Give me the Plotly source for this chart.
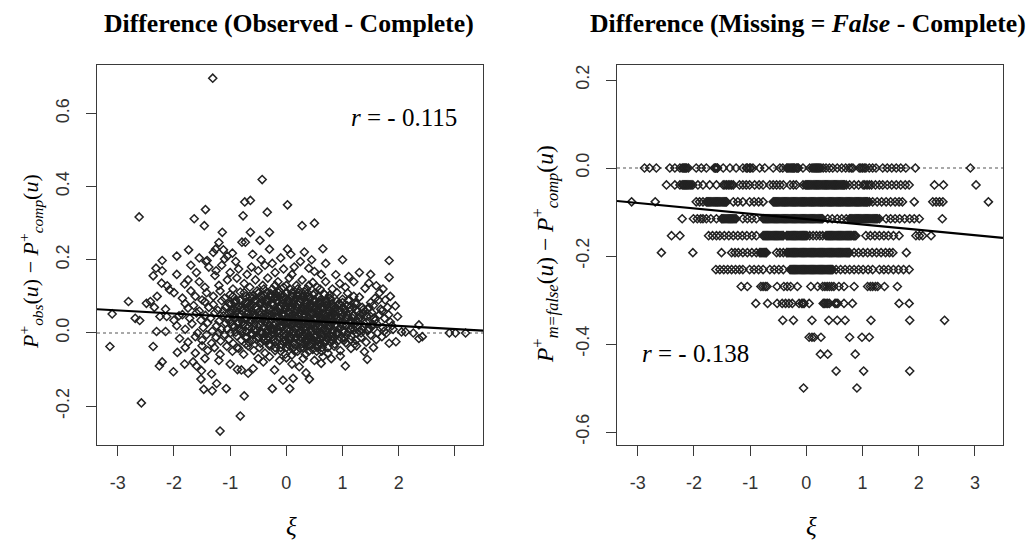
import plotly.graph_objects as go

# ---------------- data ----------------
# Left panel: (xi, P_obs - P_comp) pairs
obs_outliers = [
    (-1.31, 0.696), (-0.43, 0.419), (-0.74, 0.358), (-0.64, 0.362), (0.02, 0.35),
    (-1.44, 0.337), (-1.64, 0.312), (-1.46, 0.293), (-0.34, 0.33), (-0.77, 0.32),
    (-2.62, 0.317), (0.28, 0.293), (0.50, 0.30), (-1.14, 0.275), (-0.64, 0.275),
    (-0.30, 0.275), (-0.47, 0.253), (-0.79, 0.248), (-0.73, 0.248), (-1.20, 0.247),
    (-1.74, 0.227), (-1.26, 0.229), (-1.12, 0.227), (-0.30, 0.229), (0.02, 0.229),
    (0.32, 0.221), (0.65, 0.23), (-2.21, 0.198), (-1.41, 0.198), (-0.96, 0.218),
    (-1.10, 0.202), (1.83, 0.198), (1.83, 0.152), (-1.43, 0.195),
    (-1.52, -0.126), (-1.47, -0.154), (-1.32, -0.158), (-1.24, -0.138), (-1.07, -0.152),
    (-0.06, -0.129), (0.12, -0.124), (-0.25, -0.152), (0.06, -0.152), (0.41, -0.126),
    (-0.75, -0.172), (-0.82, -0.227), (-1.18, -0.268), (-2.58, -0.191),
]
obs_band_high = [
    (-1.95, 0.21), (-1.55, 0.205), (-1.30, 0.22), (-1.05, 0.21), (-0.90, 0.195),
    (-0.60, 0.215), (-0.45, 0.20), (-0.25, 0.19), (-0.10, 0.205), (0.08, 0.215),
    (0.25, 0.195), (0.45, 0.20), (0.70, 0.19), (1.00, 0.20),
    (-2.32, 0.177), (-2.21, 0.17), (-1.95, 0.16), (-1.70, 0.185), (-1.60, 0.165),
    (-1.38, 0.18), (-1.25, 0.17), (-1.15, 0.185), (-1.00, 0.165), (-0.85, 0.175),
    (-0.70, 0.16), (-0.62, 0.18), (-0.50, 0.17), (-0.38, 0.185), (-0.20, 0.165),
    (-0.05, 0.175), (0.10, 0.16), (0.14, 0.18), (0.40, 0.177), (0.50, 0.168),
    (0.62, 0.16), (0.88, 0.159), (1.11, 0.154), (1.30, 0.165), (1.50, 0.16),
    (-2.37, 0.156), (-2.22, 0.136), (-2.12, 0.129), (-2.08, 0.118), (-1.75, 0.145),
    (-1.81, 0.134), (-1.55, 0.14), (-1.45, 0.125), (-1.27, 0.157), (-1.20, 0.13),
    (-1.05, 0.145), (-0.95, 0.12), (-0.88, 0.15), (-0.75, 0.135), (-0.65, 0.125),
    (-0.55, 0.145), (-0.42, 0.13), (-0.33, 0.15), (-0.25, 0.12), (-0.15, 0.14),
    (-0.05, 0.125), (0.05, 0.15), (0.18, 0.13), (0.28, 0.145), (0.36, 0.12),
    (0.47, 0.138), (0.55, 0.125), (0.70, 0.14), (0.82, 0.12), (0.95, 0.135),
    (1.05, 0.125), (1.20, 0.14), (1.40, 0.122), (1.47, 0.136), (1.60, 0.129), (1.72, 0.12),
]
obs_band_mid = [
    (-2.81, 0.086), (-2.49, 0.081), (-2.42, 0.086), (-2.30, 0.10), (-2.00, 0.11),
    (-1.85, 0.095), (-1.70, 0.115), (-1.62, 0.10), (-1.50, 0.09), (-1.42, 0.11),
    (-1.30, 0.10), (-1.18, 0.115), (-1.10, 0.095), (-1.00, 0.105), (-0.90, 0.09),
    (-0.82, 0.112), (-0.72, 0.10), (-0.60, 0.095), (-0.52, 0.115), (-0.45, 0.10),
    (-0.36, 0.09), (-0.28, 0.108), (-0.20, 0.095), (-0.12, 0.115), (-0.04, 0.10),
    (0.03, 0.09), (0.10, 0.11), (0.20, 0.10), (0.26, 0.092), (0.33, 0.112),
    (0.42, 0.098), (0.50, 0.108), (0.60, 0.09), (0.68, 0.105), (0.78, 0.095),
    (0.90, 0.11), (1.00, 0.092), (1.09, 0.109), (1.20, 0.10), (1.30, 0.098),
    (1.50, 0.083), (1.64, 0.09), (1.85, 0.10),
    (-3.10, 0.052), (-2.69, 0.04), (-2.61, 0.034), (-2.35, 0.07), (-2.15, 0.065),
    (-1.91, 0.047), (-1.75, 0.068), (-1.80, 0.08), (-1.65, 0.075), (-1.55, 0.06),
    (-1.45, 0.085), (-1.38, 0.07), (-1.30, 0.078), (-1.22, 0.062), (-1.15, 0.088),
    (-1.08, 0.07), (-1.02, 0.08), (-0.95, 0.065), (-0.90, 0.085), (-0.84, 0.072),
    (-0.78, 0.06), (-0.70, 0.08), (-0.64, 0.07), (-0.58, 0.088), (-0.52, 0.065),
    (-0.47, 0.078), (-0.40, 0.07), (-0.35, 0.085), (-0.30, 0.062), (-0.24, 0.075),
    (-0.18, 0.088), (-0.12, 0.066), (-0.07, 0.08), (-0.02, 0.07), (0.04, 0.085),
    (0.08, 0.064), (0.13, 0.078), (0.19, 0.07), (0.24, 0.086), (0.30, 0.065),
    (0.36, 0.08), (0.42, 0.072), (0.48, 0.088), (0.54, 0.062), (0.60, 0.078),
    (0.66, 0.068), (0.72, 0.085), (0.80, 0.07), (0.86, 0.06), (0.93, 0.08),
    (1.00, 0.068), (1.08, 0.075), (1.15, 0.062), (1.25, 0.08), (1.35, 0.07),
    (1.45, 0.065), (1.55, 0.075), (1.70, 0.06), (1.80, 0.07), (1.94, 0.074),
]
obs_band_low = [
    (-2.25, 0.045), (-2.13, 0.045), (-2.00, 0.035), (-1.85, 0.05), (-1.72, 0.04),
    (-1.60, 0.055), (-1.52, 0.035), (-1.44, 0.048), (-1.35, 0.04), (-1.27, 0.055),
    (-1.20, 0.032), (-1.12, 0.047), (-1.05, 0.038), (-0.98, 0.055), (-0.92, 0.042),
    (-0.86, 0.03), (-0.80, 0.05), (-0.74, 0.04), (-0.68, 0.057), (-0.62, 0.035),
    (-0.56, 0.048), (-0.50, 0.04), (-0.44, 0.055), (-0.38, 0.032), (-0.33, 0.046),
    (-0.27, 0.038), (-0.22, 0.056), (-0.16, 0.043), (-0.10, 0.032), (-0.05, 0.05),
    (0.00, 0.04), (0.05, 0.056), (0.10, 0.035), (0.15, 0.048), (0.20, 0.04),
    (0.25, 0.055), (0.30, 0.033), (0.35, 0.047), (0.40, 0.04), (0.45, 0.056),
    (0.50, 0.035), (0.56, 0.05), (0.62, 0.042), (0.68, 0.03), (0.74, 0.052),
    (0.80, 0.04), (0.87, 0.047), (0.94, 0.035), (1.00, 0.055), (1.06, 0.04),
    (1.12, 0.03), (1.20, 0.05), (1.28, 0.038), (1.36, 0.052), (1.42, 0.03),
    (1.50, 0.045), (1.58, 0.035), (1.66, 0.05), (1.75, 0.04), (1.85, 0.03), (1.98, 0.045),
    (-2.31, 0.004), (-2.15, 0.004), (-1.95, 0.02), (-1.80, 0.01), (-1.68, 0.025),
    (-1.58, 0.0), (-1.48, 0.015), (-1.40, 0.028), (-1.32, 0.005), (-1.24, 0.02),
    (-1.16, 0.01), (-1.08, 0.027), (-1.00, 0.0), (-0.93, 0.015), (-0.86, 0.025),
    (-0.79, 0.005), (-0.72, 0.018), (-0.65, 0.028), (-0.58, 0.008), (-0.52, 0.02),
    (-0.46, 0.003), (-0.40, 0.016), (-0.34, 0.027), (-0.28, 0.01), (-0.22, 0.02),
    (-0.16, 0.002), (-0.10, 0.015), (-0.04, 0.026), (0.02, 0.008), (0.07, 0.02),
    (0.12, 0.0), (0.17, 0.014), (0.22, 0.027), (0.28, 0.006), (0.33, 0.018),
    (0.38, 0.0), (0.44, 0.025), (0.50, 0.012), (0.55, 0.003), (0.60, 0.02),
    (0.65, 0.028), (0.70, 0.008), (0.76, 0.018), (0.82, 0.0), (0.88, 0.025),
    (0.95, 0.012), (1.02, 0.002), (1.08, 0.02), (1.15, 0.01), (1.22, 0.026),
    (1.30, 0.005), (1.38, 0.018), (1.46, 0.008), (1.55, 0.022), (1.62, 0.0),
    (1.72, 0.015), (1.78, 0.0), (1.90, 0.01), (2.05, 0.003), (2.12, 0.003),
    (2.26, 0.0), (2.36, 0.022), (2.90, 0.0), (3.01, 0.0), (3.19, 0.0),
]
obs_band_neg = [
    (-1.90, -0.015), (-1.75, -0.025), (-1.62, -0.01), (-1.50, -0.02), (-1.42, -0.005),
    (-1.33, -0.028), (-1.25, -0.012), (-1.17, -0.022), (-1.10, -0.004), (-1.02, -0.018),
    (-0.95, -0.028), (-0.88, -0.008), (-0.80, -0.02), (-0.73, -0.012), (-0.66, -0.026),
    (-0.60, -0.004), (-0.53, -0.018), (-0.46, -0.028), (-0.40, -0.01), (-0.33, -0.02),
    (-0.26, -0.005), (-0.20, -0.025), (-0.13, -0.012), (-0.06, -0.022), (0.00, -0.006),
    (0.06, -0.018), (0.12, -0.028), (0.18, -0.01), (0.24, -0.02), (0.30, -0.004),
    (0.36, -0.026), (0.42, -0.012), (0.48, -0.022), (0.55, -0.006), (0.62, -0.018),
    (0.68, -0.028), (0.75, -0.01), (0.82, -0.022), (0.90, -0.005), (0.98, -0.015),
    (1.06, -0.027), (1.15, -0.008), (1.24, -0.02), (1.33, -0.012), (1.42, -0.025),
    (1.50, -0.005), (1.60, -0.018), (1.70, -0.01), (1.83, -0.028), (1.95, -0.024),
    (2.42, -0.01), (2.36, -0.015),
    (-3.14, -0.037), (-2.37, -0.037), (-1.94, -0.053), (-1.80, -0.04), (-1.62, -0.055),
    (-1.50, -0.035), (-1.40, -0.048), (-1.28, -0.04), (-1.18, -0.058), (-1.06, -0.036),
    (-0.96, -0.05), (-0.85, -0.042), (-0.76, -0.058), (-0.68, -0.035), (-0.58, -0.048),
    (-0.48, -0.04), (-0.38, -0.055), (-0.30, -0.035), (-0.20, -0.048), (-0.10, -0.04),
    (-0.02, -0.058), (0.06, -0.036), (0.15, -0.05), (0.25, -0.042), (0.34, -0.058),
    (0.44, -0.035), (0.54, -0.05), (0.64, -0.04), (0.74, -0.055), (0.85, -0.036),
    (0.96, -0.048), (1.15, -0.042), (1.25, -0.035), (1.39, -0.051), (1.55, -0.04),
    (-2.26, -0.09), (-2.21, -0.079), (-2.01, -0.106), (-1.81, -0.085), (-1.66, -0.079),
    (-1.60, -0.09), (-1.51, -0.103), (-1.33, -0.112), (-1.45, -0.07), (-1.20, -0.075),
    (-1.00, -0.085), (-0.87, -0.10), (-0.80, -0.101), (-0.68, -0.11), (-0.59, -0.097),
    (-0.50, -0.07), (-0.41, -0.079), (-0.30, -0.065), (-0.21, -0.101), (-0.12, -0.075),
    (0.00, -0.068), (0.10, -0.085), (0.23, -0.092), (0.35, -0.109), (0.30, -0.07),
    (0.50, -0.075), (0.62, -0.083), (0.65, -0.065), (0.80, -0.07), (0.96, -0.063),
    (1.44, -0.072), (1.05, -0.09),
]
obs_core = [
    (-0.48, 0.06), (-0.43, 0.09), (-0.39, 0.05), (-0.35, 0.11), (-0.31, 0.02),
    (-0.27, 0.08), (-0.23, 0.04), (-0.19, 0.10), (-0.15, 0.06), (-0.11, 0.02),
    (-0.08, 0.09), (-0.03, 0.05), (0.01, 0.11), (0.04, 0.03), (0.09, 0.07),
    (0.12, 0.10), (0.16, 0.04), (0.20, 0.08), (0.23, 0.0), (0.27, 0.06),
    (0.31, 0.10), (0.34, 0.03), (0.39, 0.07), (0.43, 0.01), (0.46, 0.05),
    (0.50, 0.09), (0.53, 0.02), (0.57, 0.06), (0.61, 0.0), (0.64, 0.04),
    (0.67, 0.08), (0.70, -0.02), (0.73, 0.03), (0.77, 0.06), (0.81, -0.01),
    (0.84, 0.05), (0.60, -0.03), (0.55, -0.04), (0.50, -0.01), (0.45, -0.03),
    (0.40, -0.05), (0.35, -0.02), (0.30, -0.04), (0.25, -0.01), (0.20, -0.05),
    (0.15, -0.03), (0.10, -0.06), (0.05, -0.02), (0.00, -0.04), (-0.05, -0.01),
    (-0.10, -0.05), (-0.15, -0.02), (-0.20, -0.04), (-0.25, 0.01), (-0.30, -0.03),
    (-0.35, 0.0), (-0.40, -0.02), (-0.45, 0.03), (-0.50, -0.01), (-0.55, 0.09),
    (-0.60, 0.05), (-0.65, 0.10), (-0.70, 0.04), (-0.75, 0.11), (-0.80, 0.07),
    (-0.85, 0.01), (-0.90, 0.06), (-0.95, 0.10), (-1.00, 0.03), (0.90, 0.04),
    (0.95, 0.08), (1.00, 0.02), (1.05, 0.06), (1.10, 0.09), (1.15, 0.03),
    (1.20, 0.07), (1.25, 0.0), (1.30, 0.05), (0.60, 0.12), (0.40, 0.13),
    (0.20, 0.12), (0.00, 0.13), (-0.20, 0.13), (-0.40, 0.12),
]
obs_core2 = [
    (-0.58, 0.02), (-0.54, 0.07), (-0.49, 0.11), (-0.46, 0.0), (-0.42, 0.04),
    (-0.37, 0.08), (-0.33, -0.01), (-0.29, 0.05), (-0.26, 0.10), (-0.22, 0.01),
    (-0.18, 0.06), (-0.14, 0.11), (-0.12, 0.0), (-0.09, 0.04), (-0.06, 0.08),
    (-0.02, -0.02), (0.02, 0.03), (0.03, 0.07), (0.06, 0.12), (0.08, -0.01),
    (0.11, 0.05), (0.14, 0.09), (0.17, 0.0), (0.19, 0.04), (0.22, 0.11),
    (0.26, 0.02), (0.29, 0.07), (0.32, -0.03), (0.33, 0.05), (0.37, 0.10),
    (0.38, -0.01), (0.41, 0.03), (0.44, 0.08), (0.47, -0.02), (0.49, 0.04),
    (0.52, 0.07), (0.56, -0.02), (0.58, 0.03), (0.62, 0.07), (0.63, -0.05),
    (0.66, 0.01), (0.69, 0.05), (0.72, 0.0), (0.74, -0.04), (0.78, 0.02),
    (0.79, 0.09), (0.83, 0.03), (0.86, -0.03), (0.88, 0.07), (0.92, 0.0),
    (0.97, 0.04), (1.03, -0.02), (1.08, 0.05), (1.13, 0.01), (1.18, 0.04),
    (1.22, -0.03), (1.27, 0.03), (1.35, 0.01), (1.40, 0.06), (-0.62, 0.0),
    (-0.68, 0.08), (-0.72, -0.03), (-0.78, 0.03), (-0.83, 0.09), (-0.88, -0.04),
    (-0.93, 0.04), (-0.98, 0.08), (-1.05, 0.01), (-1.12, 0.06), (-1.20, 0.0),
]
obs_core3 = [
    (-0.97, 0.061), (-0.88, 0.069), (-0.79, 0.063), (-0.69, 0.071), (-0.61, 0.058),
    (-0.51, 0.067), (-0.41, 0.062), (-0.32, 0.072), (-0.21, 0.059), (-0.13, 0.068),
    (-0.03, 0.064), (0.07, 0.073), (0.16, 0.057), (0.27, 0.066), (0.35, 0.061),
    (0.46, 0.07), (0.55, 0.058), (0.64, 0.067), (0.75, 0.062), (0.84, 0.071),
    (0.95, 0.06), (1.04, 0.066), (1.13, 0.069), (1.26, 0.059), (1.37, 0.064), (1.47, 0.07),
    (-1.02, 0.041), (-0.93, 0.049), (-0.83, 0.044), (-0.74, 0.038), (-0.66, 0.047),
    (-0.56, 0.042), (-0.46, 0.05), (-0.36, 0.039), (-0.26, 0.046), (-0.17, 0.041),
    (-0.08, 0.049), (0.02, 0.043), (0.12, 0.038), (0.21, 0.048), (0.31, 0.042),
    (0.41, 0.05), (0.51, 0.04), (0.60, 0.046), (0.70, 0.043), (0.79, 0.049),
    (0.89, 0.039), (0.99, 0.045), (1.09, 0.041), (1.19, 0.048), (1.31, 0.042),
    (1.43, 0.046), (1.56, 0.041),
    (-0.95, 0.022), (-0.85, 0.029), (-0.76, 0.024), (-0.67, 0.018), (-0.57, 0.027),
    (-0.47, 0.021), (-0.38, 0.03), (-0.29, 0.019), (-0.19, 0.026), (-0.09, 0.022),
    (0.00, 0.029), (0.10, 0.023), (0.19, 0.018), (0.29, 0.028), (0.39, 0.021),
    (0.48, 0.027), (0.58, 0.02), (0.68, 0.025), (0.77, 0.03), (0.87, 0.019),
    (0.97, 0.026), (1.06, 0.022), (1.16, 0.028), (1.27, 0.02), (1.39, 0.025), (1.52, 0.021),
    (-0.90, 0.002), (-0.81, 0.009), (-0.71, 0.004), (-0.62, -0.002), (-0.52, 0.007),
    (-0.43, 0.001), (-0.33, 0.01), (-0.24, 0.003), (-0.14, 0.008), (-0.04, -0.001),
    (0.06, 0.006), (0.15, 0.011), (0.25, 0.0), (0.34, 0.007), (0.44, 0.003),
    (0.53, 0.01), (0.63, -0.002), (0.72, 0.005), (0.82, 0.009), (0.92, 0.001),
    (1.01, 0.007), (1.11, 0.003), (1.21, 0.009), (1.33, 0.0), (1.45, 0.006),
    (-0.92, 0.082), (-0.82, 0.089), (-0.72, 0.084), (-0.63, 0.079), (-0.53, 0.088),
    (-0.44, 0.083), (-0.34, 0.09), (-0.24, 0.08), (-0.15, 0.086), (-0.05, 0.091),
    (0.05, 0.081), (0.14, 0.087), (0.24, 0.083), (0.33, 0.09), (0.43, 0.079),
    (0.52, 0.086), (0.62, 0.082), (0.71, 0.089), (0.81, 0.08), (0.90, 0.087),
    (1.00, 0.083), (1.11, 0.088), (1.22, 0.081),
    (-0.70, -0.012), (-0.60, -0.019), (-0.50, -0.014), (-0.40, -0.02), (-0.31, -0.011),
    (-0.22, -0.017), (-0.12, -0.013), (-0.03, -0.02), (0.07, -0.01), (0.17, -0.016),
    (0.26, -0.012), (0.36, -0.019), (0.45, -0.015), (0.55, -0.021), (0.64, -0.011),
    (0.74, -0.017), (0.84, -0.013), (0.93, -0.02), (1.03, -0.014), (1.14, -0.018),
    (-0.60, 0.102), (-0.50, 0.109), (-0.40, 0.104), (-0.30, 0.10), (-0.20, 0.108),
    (-0.10, 0.103), (0.00, 0.11), (0.09, 0.101), (0.19, 0.106), (0.29, 0.102),
    (0.38, 0.109), (0.48, 0.104), (0.57, 0.10), (0.67, 0.107), (0.77, 0.103),
]
obs_core4 = [
    (-0.17, 0.015), (-0.13, 0.055), (-0.07, 0.035), (-0.01, 0.075), (0.04, 0.015),
    (0.08, 0.045), (0.11, 0.085), (0.14, 0.025), (0.18, 0.06), (0.21, -0.005),
    (0.24, 0.035), (0.28, 0.09), (0.31, 0.015), (0.34, 0.065), (0.37, -0.015),
    (0.40, 0.045), (0.43, 0.095), (0.46, 0.02), (0.49, 0.065), (0.52, -0.01),
    (0.55, 0.04), (0.58, 0.085), (0.61, 0.015), (0.63, 0.055), (0.66, -0.025),
    (0.69, 0.035), (0.72, 0.075), (0.75, 0.01), (0.78, 0.05), (0.81, -0.02),
    (0.83, 0.03), (0.86, 0.065), (0.89, 0.0), (0.57, -0.035), (0.47, -0.045),
    (0.38, -0.035), (0.27, -0.03), (0.13, -0.04), (0.02, -0.03), (-0.09, -0.03),
    (1.52, 0.055), (1.61, 0.025), (1.68, 0.065), (1.74, 0.005), (1.82, 0.05),
    (1.58, 0.095), (1.66, 0.11), (1.76, 0.09), (1.88, 0.02), (1.48, 0.012),
]

# Right panel: difference takes discrete levels -k/26; xi values on each level
miss_levels = [0, -1/26, -2/26, -3/26, -4/26, -5/26, -6/26, -7/26, -8/26,
               -9/26, -10/26, -11/26, -12/26, -13/26]
miss_rows = [
    [-2.88, -2.79, -2.67, -2.43, -2.34, -2.25, -2.21, -2.17, -2.13, -2.10, -1.96, -1.87, -1.78,
     -1.64, -1.61, -1.58, -1.48, -1.36, -1.25, -1.13, -1.07, -1.01, -0.95, -0.83, -0.74, -0.59,
     -0.47, -0.42, -0.35, -0.31, -0.27, -0.23, -0.18, -0.14, -0.06, 0.06, 0.10, 0.14, 0.18, 0.22,
     0.26, 0.30, 0.35, 0.41, 0.47, 0.55, 0.63, 0.70, 0.76, 0.83, 0.94, 1.00, 1.06, 1.12, 1.18,
     1.24, 1.36, 1.44, 1.52, 1.60, 1.68, 1.77, 1.94, 2.92],
    [-2.49, -2.34, -2.25, -2.21, -2.17, -2.13, -2.09, -2.05, -2.02, -1.93, -1.84, -1.72, -1.60,
     -1.48, -1.42, -1.36, -1.30, -1.19, -1.13, -1.07, -1.01, -0.92, -0.84, -0.77, -0.65, -0.59,
     -0.53, -0.47, -0.41, -0.29, -0.23, -0.18, -0.06, -0.02, 0.02, 0.06, 0.10, 0.14, 0.18, 0.22,
     0.26, 0.30, 0.34, 0.38, 0.42, 0.46, 0.50, 0.54, 0.58, 0.62, 0.66, 0.71, 0.77, 0.85, 0.93,
     1.01, 1.08, 1.16, 1.23, 1.30, 1.36, 1.44, 1.52, 1.60, 1.68, 1.76, 1.83, 2.28, 2.44, 3.02],
    [-3.11, -2.69, -1.96, -1.90, -1.84, -1.78, -1.74, -1.70, -1.66, -1.62, -1.58, -1.54, -1.50,
     -1.46, -1.42, -1.30, -1.22, -1.13, -1.01, -0.93, -0.85, -0.77, -0.59, -0.55, -0.51, -0.47,
     -0.43, -0.39, -0.35, -0.31, -0.27, -0.23, -0.19, -0.15, -0.11, -0.07, -0.03, 0.01, 0.05,
     0.09, 0.13, 0.17, 0.21, 0.25, 0.29, 0.33, 0.37, 0.41, 0.45, 0.49, 0.53, 0.57, 0.61, 0.65,
     0.69, 0.73, 0.77, 0.81, 0.85, 0.89, 0.93, 0.97, 1.01, 1.05, 1.09, 1.12, 1.18, 1.26, 1.34,
     1.42, 1.50, 1.58, 1.65, 1.71, 1.92, 2.25, 2.31, 2.37, 2.43, 3.24],
    [-2.21, -2.01, -1.94, -1.88, -1.84, -1.78, -1.70, -1.60, -1.51, -1.47, -1.43, -1.39, -1.35,
     -1.31, -1.27, -1.25, -1.13, -1.05, -0.97, -0.89, -0.77, -0.73, -0.69, -0.65, -0.61, -0.57,
     -0.53, -0.49, -0.45, -0.41, -0.37, -0.33, -0.29, -0.25, -0.21, -0.17, -0.13, -0.09, -0.05,
     -0.01, 0.03, 0.07, 0.11, 0.15, 0.19, 0.23, 0.27, 0.29, 0.38, 0.46, 0.55, 0.63, 0.71, 0.77,
     0.81, 0.85, 0.89, 0.93, 0.97, 1.01, 1.05, 1.09, 1.13, 1.17, 1.21, 1.25, 1.30, 1.42, 1.50,
     1.58, 1.66, 1.75, 1.84, 1.92, 2.01, 2.42],
    [-2.40, -2.25, -1.74, -1.67, -1.60, -1.54, -1.46, -1.38, -1.30, -1.22, -1.14, -1.06, -0.97,
     -0.89, -0.77, -0.73, -0.69, -0.65, -0.61, -0.57, -0.53, -0.49, -0.45, -0.41, -0.35, -0.31,
     -0.27, -0.23, -0.19, -0.15, -0.11, -0.07, -0.03, 0.01, 0.06, 0.12, 0.18, 0.24, 0.29, 0.35,
     0.39, 0.43, 0.47, 0.51, 0.55, 0.59, 0.63, 0.67, 0.71, 0.75, 0.79, 0.84, 0.88, 1.06, 1.14,
     1.22, 1.30, 1.38, 1.46, 1.55, 1.65, 1.95, 2.01, 2.07, 2.22],
    [-2.58, -2.02, -1.51, -1.33, -1.27, -1.21, -1.13, -1.05, -0.97, -0.89, -0.83, -0.79, -0.75,
     -0.71, -0.53, -0.47, -0.41, -0.35, -0.31, -0.27, -0.23, -0.19, -0.15, -0.11, -0.07, -0.03,
     0.01, 0.05, 0.09, 0.13, 0.17, 0.21, 0.25, 0.29, 0.33, 0.37, 0.41, 0.45, 0.49, 0.53, 0.57,
     0.61, 0.65, 0.69, 0.73, 0.77, 0.85, 0.93, 1.01, 1.09, 1.17, 1.25, 1.33, 1.41, 1.48, 1.54, 1.78],
    [-1.61, -1.54, -1.47, -1.40, -1.33, -1.26, -1.19, -1.13, -1.01, -0.93, -0.85, -0.77, -0.65,
     -0.57, -0.49, -0.41, -0.29, -0.25, -0.21, -0.17, -0.13, -0.09, -0.05, -0.01, 0.03, 0.07,
     0.11, 0.15, 0.19, 0.23, 0.27, 0.31, 0.35, 0.39, 0.43, 0.47, 0.53, 0.61, 0.69, 0.77, 0.85,
     0.93, 1.01, 1.10, 1.18, 1.30, 1.38, 1.46, 1.55, 1.64, 1.73, 1.83],
    [-1.16, -1.05, -0.81, -0.77, -0.73, -0.70, -0.52, -0.40, -0.34, -0.28, -0.16, 0.08, 0.20,
     0.29, 0.33, 0.37, 0.41, 0.45, 0.49, 0.58, 0.67, 0.85, 1.09, 1.14, 1.18, 1.23, 1.27, 1.39, 1.62],
    [-0.90, -0.69, -0.52, -0.43, -0.37, -0.31, -0.25, -0.13, -0.08, -0.06, -0.04, 0.05, 0.30,
     0.32, 0.35, 0.38, 0.41, 0.51, 0.53, 0.56, 0.67, 0.82, 1.65, 1.83],
    [-0.42, -0.23, 0.10, 0.40, 0.55, 0.69, 1.15, 1.84, 2.46],
    [0.05, 0.10, 0.14, 0.26, 0.77, 0.99, 1.12],
    [0.25, 0.38, 0.87],
    [0.53, 1.02, 1.84],
    [-0.05, 0.90],
]
# extra overlapping points in the solid-black stretches of the first rows
miss_rows_dense = [
    [-2.19, -2.15, -1.62, -1.59, -1.05, -0.99, -0.33, -0.29, -0.25, -0.21, -0.16, 0.12, 0.16,
     0.20, 0.24, 0.80, 0.97, 1.03],
    [-2.19, -2.15, -2.11, -2.07, -1.45, -1.39, -1.33, 0.00, 0.04, 0.08, 0.12, 0.16, 0.20, 0.24,
     0.28, 0.32, 0.36, 0.40, 0.44, 0.48, 0.52, 0.56, 0.60, 0.64, 0.68, 1.04, 1.12],
    [-1.76, -1.72, -1.68, -1.64, -1.60, -1.56, -1.52, -1.48, -1.44, -0.57, -0.53, -0.49, -0.45,
     -0.41, -0.37, -0.33, -0.29, -0.25, -0.21, -0.17, -0.13, -0.09, -0.05, -0.01, 0.03, 0.07,
     0.11, 0.15, 0.19, 0.23, 0.27, 0.31, 0.35, 0.39, 0.43, 0.47, 0.51, 0.55, 0.59, 0.63, 0.67,
     0.71, 0.75, 0.79, 0.83, 0.87, 0.91, 0.95, 0.99, 1.03, 1.07],
    [-1.49, -1.45, -1.41, -1.37, -1.33, -1.29, -0.75, -0.71, -0.67, -0.63, -0.59, -0.55, -0.51,
     -0.47, -0.43, -0.39, -0.35, -0.31, -0.27, -0.23, -0.19, -0.15, -0.11, -0.07, -0.03, 0.01,
     0.05, 0.09, 0.13, 0.17, 0.21, 0.25, 0.79, 0.83, 0.87, 0.91, 0.95, 0.99, 1.03, 1.07, 1.11,
     1.15, 1.19, 1.23, 1.27],
    [-0.75, -0.71, -0.67, -0.63, -0.59, -0.55, -0.51, -0.47, -0.43, -0.33, -0.29, -0.25, -0.21,
     -0.17, -0.13, -0.09, -0.05, -0.01, 0.37, 0.41, 0.45, 0.49, 0.53, 0.57, 0.61, 0.65, 0.69,
     0.73, 0.77, 0.81, 0.86],
    [-0.81, -0.77, -0.73, -0.33, -0.29, -0.25, -0.21, -0.17, -0.13, -0.09, -0.05, -0.01, 0.03,
     0.07, 0.11, 0.15, 0.19, 0.23, 0.27, 0.31, 0.35, 0.39, 0.43, 0.47, 0.51, 0.55, 0.59, 0.63,
     0.67, 0.71, 0.75],
    [-0.27, -0.23, -0.19, -0.15, -0.11, -0.07, -0.03, 0.01, 0.05, 0.09, 0.13, 0.17, 0.21, 0.25,
     0.29, 0.33, 0.37, 0.41, 0.45],
]

# regression lines (intercept, slope) and correlations
fit_obs = (0.0361, -0.00852)
fit_miss = (-0.1162, -0.01223)
r_obs = "- 0.115"
r_miss = "- 0.138"

x_ticks = [-3, -2, -1, 0, 1, 2, 3]
x_labels_left = ["-3", "-2", "-1", "0", "1", "2", ""]
x_labels_right = ["-3", "-2", "-1", "0", "1", "2", "3"]
y_ticks_left = [-0.2, 0.0, 0.2, 0.4, 0.6]
y_labels_left = ["-0.2", "0.0", "0.2", "0.4", "0.6"]
y_ticks_right = [-0.6, -0.4, -0.2, 0.0, 0.2]
y_labels_right = ["-0.6", "-0.4", "-0.2", "0.0", "0.2"]

xrange_left = [-3.37, 3.50]
yrange_left = [-0.306, 0.732]
xrange_right = [-3.37, 3.50]
yrange_right = [-0.6295, 0.2341]

# ---------------- figure ----------------
W, H = 1031, 540
obs_all = (obs_outliers + obs_band_high + obs_band_mid + obs_band_low + obs_band_neg
           + obs_core + obs_core2 + obs_core3 + obs_core4)
ox = [p[0] for p in obs_all]
oy = [p[1] for p in obs_all]

mx, my = [], []
for lvl, row in zip(miss_levels, miss_rows):
    mx.extend(row)
    my.extend([lvl] * len(row))
for lvl, row in zip(miss_levels, miss_rows_dense):
    mx.extend(row)
    my.extend([lvl] * len(row))

PT_COLOR = "#222222"
marker = dict(symbol="diamond-open", size=6.2, color=PT_COLOR, line=dict(width=1.5, color=PT_COLOR))

fig = go.Figure()

# zero reference (dotted)
fig.add_trace(go.Scatter(x=xrange_left, y=[0, 0], mode="lines", xaxis="x", yaxis="y",
                         line=dict(color="#555555", width=1.2, dash="dot"), hoverinfo="skip"))
fig.add_trace(go.Scatter(x=xrange_right, y=[0, 0], mode="lines", xaxis="x2", yaxis="y2",
                         line=dict(color="#555555", width=1.2, dash="dot"), hoverinfo="skip"))

fig.add_trace(go.Scatter(x=ox, y=oy, mode="markers", marker=marker, xaxis="x", yaxis="y"))
fig.add_trace(go.Scatter(x=mx, y=my, mode="markers", marker=marker, xaxis="x2", yaxis="y2"))

# regression lines
fig.add_trace(go.Scatter(x=xrange_left, y=[fit_obs[0] + fit_obs[1] * v for v in xrange_left],
                         mode="lines", line=dict(color="black", width=2.2), xaxis="x", yaxis="y"))
fig.add_trace(go.Scatter(x=xrange_right, y=[fit_miss[0] + fit_miss[1] * v for v in xrange_right],
                         mode="lines", line=dict(color="black", width=2.2), xaxis="x2", yaxis="y2"))

# plot-area pixel boxes
L1, R1 = 97, 483
L2, R2 = 617, 1003
TOP, BOT = 65, 445


def px_x(p):
    return p / W


def px_y(p):
    return 1 - p / H


tick_font = dict(family="Liberation Sans, Arial, sans-serif", size=18, color="#333333")
axis_common = dict(showgrid=False, zeroline=False, showline=True, mirror=True,
                   linecolor="#3a3a3a", linewidth=1.3, ticks="outside", ticklen=10,
                   tickwidth=1.3, tickcolor="#3a3a3a", tickfont=tick_font, fixedrange=True)

fig.update_layout(
    width=W, height=H, margin=dict(l=0, r=0, t=0, b=0),
    paper_bgcolor="white", plot_bgcolor="white", showlegend=False,
    xaxis=dict(domain=[px_x(L1), px_x(R1)], range=xrange_left, tickvals=x_ticks,
               ticktext=x_labels_left, anchor="y", ticklabelstandoff=11, **axis_common),
    yaxis=dict(domain=[px_y(BOT), px_y(TOP)], range=yrange_left, tickvals=y_ticks_left,
               ticktext=y_labels_left, anchor="x", tickangle=-90, ticklabelstandoff=10, **axis_common),
    xaxis2=dict(domain=[px_x(L2), px_x(R2)], range=xrange_right, tickvals=x_ticks,
                ticktext=x_labels_right, anchor="y2", ticklabelstandoff=11, **axis_common),
    yaxis2=dict(domain=[px_y(BOT), px_y(TOP)], range=yrange_right, tickvals=y_ticks_right,
                ticktext=y_labels_right, anchor="x2", tickangle=-90, ticklabelstandoff=10, **axis_common),
)

serif = "Liberation Serif, Times New Roman, serif"
ann = []
ann.append(dict(text="<b>Difference (Observed - Complete)</b>", x=px_x(289), y=px_y(24),
                xref="paper", yref="paper", showarrow=False, xanchor="center", yanchor="middle",
                font=dict(family=serif, size=25.7, color="black")))
ann.append(dict(text="<b>Difference (Missing = <i>False</i> - Complete)</b>", x=px_x(808), y=px_y(24),
                xref="paper", yref="paper", showarrow=False, xanchor="center", yanchor="middle",
                font=dict(family=serif, size=25.7, color="black")))
ann.append(dict(text="<i>ξ</i>", x=px_x(291), y=px_y(526), xref="paper", yref="paper",
                showarrow=False, xanchor="center", yanchor="middle",
                font=dict(family=serif, size=25, color="black")))
ann.append(dict(text="<i>ξ</i>", x=px_x(811), y=px_y(526), xref="paper", yref="paper",
                showarrow=False, xanchor="center", yanchor="middle",
                font=dict(family=serif, size=25, color="black")))
ann.append(dict(text="<i>P</i><sup>+</sup><sub><i>obs</i></sub>(<i>u</i>) − <i>P</i><sup>+</sup><sub><i>comp</i></sub>(<i>u</i>)",
                x=px_x(30), y=px_y(262), xref="paper", yref="paper", textangle=-90,
                showarrow=False, xanchor="center", yanchor="middle",
                font=dict(family=serif, size=22, color="black")))
ann.append(dict(text="<i>P</i><sup>+</sup><sub><i>m=false</i></sub>(<i>u</i>) − <i>P</i><sup>+</sup><sub><i>comp</i></sub>(<i>u</i>)",
                x=px_x(545), y=px_y(254), xref="paper", yref="paper", textangle=-90,
                showarrow=False, xanchor="center", yanchor="middle",
                font=dict(family=serif, size=23.5, color="black")))
ann.append(dict(text="<i>r</i> = " + r_obs, x=px_x(404), y=px_y(117), xref="paper", yref="paper",
                showarrow=False, xanchor="center", yanchor="middle",
                font=dict(family=serif, size=25, color="black")))
ann.append(dict(text="<i>r</i> = " + r_miss, x=px_x(695), y=px_y(353), xref="paper", yref="paper",
                showarrow=False, xanchor="center", yanchor="middle",
                font=dict(family=serif, size=25, color="black")))
fig.update_layout(annotations=ann)

fig.write_html("out.html", config={"displayModeBar": False})
